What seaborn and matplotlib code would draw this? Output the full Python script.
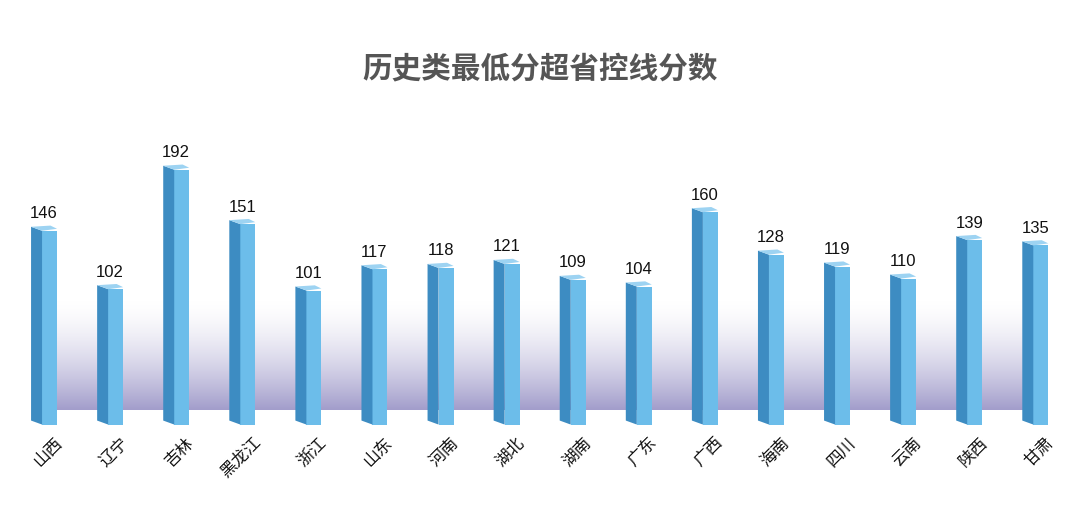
import numpy as np
import matplotlib
matplotlib.use("Agg")
import matplotlib.pyplot as plt
import matplotlib.transforms as mtransforms
import seaborn as sns
from matplotlib.patches import Polygon
from matplotlib.colors import LinearSegmentedColormap

# Daten
provinces = ["山西", "辽宁", "吉林", "黑龙江", "浙江", "山东", "河南", "湖北",
             "湖南", "广东", "广西", "海南", "四川", "云南", "陕西", "甘肃"]
scores = [146, 102, 192, 151, 101, 117, 118, 121, 109, 104, 160, 128, 119, 110, 139, 135]

sns.set_theme(style="white")
plt.rcParams['font.family'] = ['Noto Sans CJK SC', 'DejaVu Sans']

FRONT = "#6cbdea"
SIDE = "#3d8cc2"
TOP = "#9dd3f2"

fig = plt.figure(figsize=(10.8, 5.12), dpi=100)
ax = fig.add_axes([0.0102, 0.163, 0.979, 0.604])
ax.set_xlim(-0.5, len(provinces) - 0.5)
ax.set_ylim(-3, 230)

# Pixel -> Datenkoordinaten
px_x = (ax.transData.transform((1, 0))[0] - ax.transData.transform((0, 0))[0])
px_y = (ax.transData.transform((0, 1))[1] - ax.transData.transform((0, 0))[1])
front_w = 15 / px_x
side_w = 11 / px_x
rise = 4 / px_y

# Farbverlauf im Hintergrund (Boden)
grad = np.linspace(0, 1, 256).reshape(-1, 1) ** 1.6
cmap = LinearSegmentedColormap.from_list("floor", ["#ffffff", "#a29dcb"])
ax.imshow(grad, cmap=cmap, aspect="auto", extent=[0, len(provinces) - 1, 11, 95],
          origin="upper", zorder=0)

# Vorderseite der Säulen
sns.barplot(x=provinces, y=scores, width=front_w, color=FRONT, saturation=1,
            edgecolor="none", ax=ax, zorder=3)
for bar in ax.patches:
    bar.set_x(bar.get_x() + side_w / 2)

# Seiten- und Deckfläche
for bar, val in zip(ax.patches, scores):
    x0 = bar.get_x()
    x1 = x0 + bar.get_width()
    side = Polygon([(x0 - side_w, rise), (x0, 0), (x0, val), (x0 - side_w, val + rise)],
                   closed=True, facecolor=SIDE, edgecolor="none", zorder=3)
    top = Polygon([(x0 - side_w, val + rise), (x0, val), (x1, val + 0.5 * rise),
                   (x1 - side_w * 0.6, val + 1.3 * rise)],
                  closed=True, facecolor=TOP, edgecolor="none", zorder=4)
    ax.add_patch(side)
    ax.add_patch(top)
    cx = (x0 - side_w + x1) / 2
    ax.annotate(str(val), (cx, val + rise), xytext=(0, 4), textcoords="offset points",
                ha="center", va="bottom", fontsize=12, color="#111111",
                family=['Liberation Sans', 'DejaVu Sans'])

ax.set_xlim(-0.5, len(provinces) - 0.5)
ax.set_ylim(-3, 230)
ax.set_yticks([])
ax.set_ylabel("")
ax.tick_params(axis="x", length=0, pad=4)
offset = mtransforms.ScaledTranslation(7 / 72, 0, fig.dpi_scale_trans)
for lbl in ax.get_xticklabels():
    lbl.set_rotation(45)
    lbl.set_ha("right")
    lbl.set_rotation_mode("anchor")
    lbl.set_fontsize(12)
    lbl.set_color("#111111")
    lbl.set_transform(lbl.get_transform() + offset)
sns.despine(ax=ax, left=True, bottom=True)

fig.text(0.5, 0.867, "历史类最低分超省控线分数", ha="center", va="center",
         fontsize=21.3, fontweight="bold", color="#555555")

fig.savefig("out.png", dpi=100, facecolor="white")
